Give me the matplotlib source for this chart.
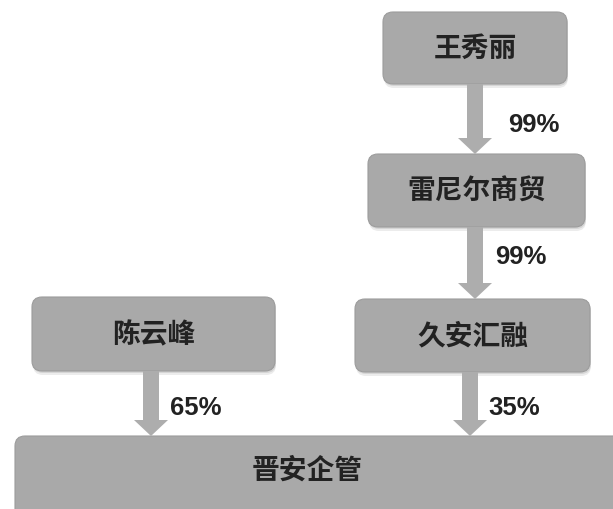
import matplotlib
matplotlib.use("Agg")
import matplotlib.pyplot as plt
from matplotlib.patches import FancyBboxPatch, FancyArrow

plt.rcParams['font.family'] = ['Noto Sans CJK SC', 'DejaVu Sans']

# data
names = ["王秀丽", "雷尼尔商贸", "久安汇融", "陈云峰", "晋安企管"]
edge_from = ["王秀丽", "雷尼尔商贸", "久安汇融", "陈云峰"]
edge_to = ["雷尼尔商贸", "久安汇融", "晋安企管", "晋安企管"]
shares = ["99%", "99%", "35%", "65%"]

# layout (pixel boxes: x0, y0, x1, y1)
boxes = {
    "王秀丽": (383, 13, 567, 85),
    "雷尼尔商贸": (368, 155, 585, 228),
    "久安汇融": (355, 300, 590, 373),
    "陈云峰": (32, 298, 275, 372),
    "晋安企管": (15, 437, 640, 530),
}
arrow_x = {"王秀丽": 475, "雷尼尔商贸": 475, "久安汇融": 470, "陈云峰": 151}
label_pos = {"王秀丽": (508, 125), "雷尼尔商贸": (495, 257), "久安汇融": (488, 408), "陈云峰": (170, 408)}

fig = plt.figure(figsize=(6.13, 5.10), dpi=100)
ax = fig.add_axes([0, 0, 1, 1])
ax.set_xlim(0, 613)
ax.set_ylim(510, 0)
ax.axis('off')

box_color = "#a9a9a9"
for n in names:
    x0, y0, x1, y1 = boxes[n]
    # soft shadow
    for k, c in ((4, "#ececec"), (2, "#d6d6d6")):
        sh = FancyBboxPatch((x0 + 1, y0 + k), x1 - x0, y1 - y0,
                            boxstyle="round,pad=0,rounding_size=10",
                            fc=c, ec="none", zorder=1)
        ax.add_patch(sh)
    p = FancyBboxPatch((x0, y0), x1 - x0, y1 - y0,
                       boxstyle="round,pad=0,rounding_size=10",
                       fc=box_color, ec="#9c9c9c", lw=0.8, zorder=2)
    ax.add_patch(p)
    cx = (x0 + min(x1, 600)) / 2 if n == "晋安企管" else (x0 + x1) / 2
    cy = (y0 + 505) / 2 if n == "晋安企管" else (y0 + y1) / 2
    ax.text(cx, cy, n, ha='center', va='center', fontsize=20,
            fontweight='bold', color="#222222", zorder=3)

for f, t, s in zip(edge_from, edge_to, shares):
    ax_x = arrow_x[f]
    y_start = boxes[f][3]
    y_end = boxes[t][1]
    arr = FancyArrow(ax_x, y_start, 0, y_end - y_start, width=16,
                     head_width=34, head_length=16, length_includes_head=True,
                     fc="#adadad", ec="none", zorder=2)
    ax.add_patch(arr)
    lx, ly = label_pos[f]
    ax.text(lx, ly, s, ha='left', va='center', fontsize=18.5,
            fontweight='bold', color="#222222",
            family=['Liberation Sans', 'DejaVu Sans'], zorder=3)

fig.savefig("out.png", dpi=100)
